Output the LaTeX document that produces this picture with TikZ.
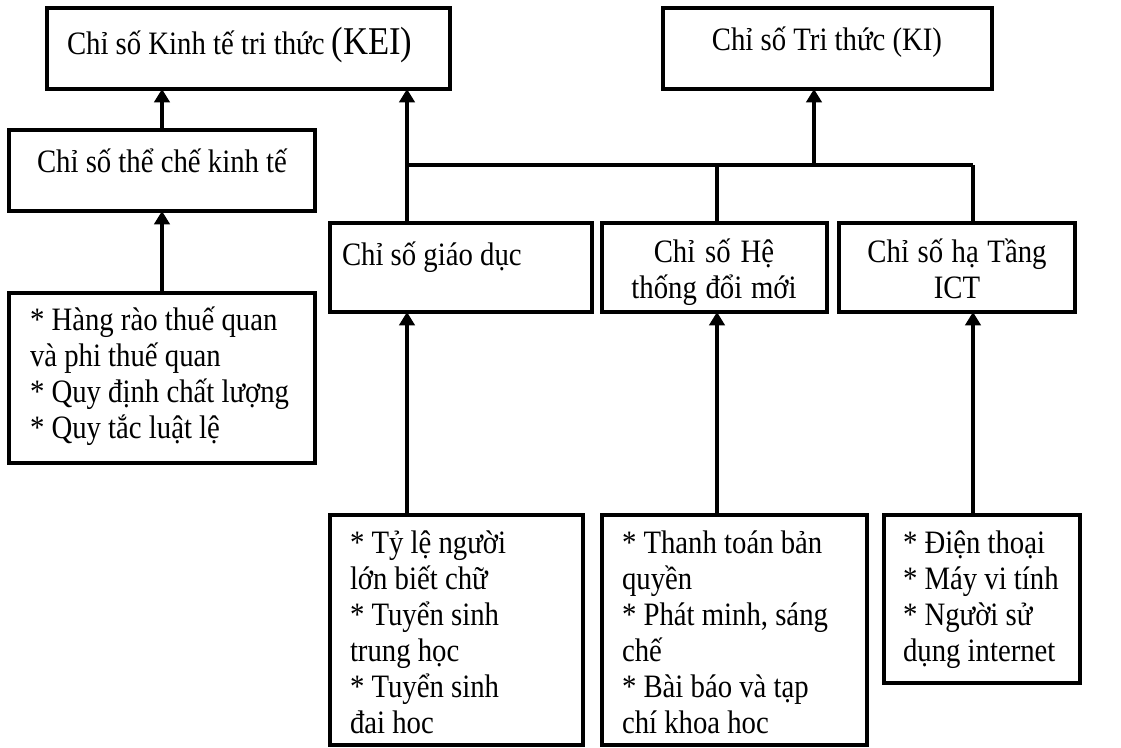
\documentclass[tikz,border=0pt]{standalone}
\usepackage{fontspec}
\setmainfont[FakeStretch=0.88]{Liberation Serif}
\usetikzlibrary{arrows.meta}
\tikzset{
  box/.style={draw, line width=2.7pt, inner sep=0pt, outer sep=0pt},
  txt/.style={inner sep=0pt, outer sep=0pt, font=\fontsize{24.5}{27}\selectfont,
    execute at begin node={\spaceskip=0pt\xspaceskip=0pt\relax}},
  ltxt/.style={txt, align=left, anchor=base west},
  ctxt/.style={txt, align=center, anchor=base},
  conn/.style={line width=2.4pt},
  arr/.style={conn, -{Triangle[length=10pt,width=11.5pt]}}
}
\begin{document}
\begin{tikzpicture}[x=0.75pt, y=-0.75pt]
\path[fill=white] (0,0) rectangle (1121,747);
\useasboundingbox (0,0) rectangle (1121,747);

% boxes
\node[box, minimum width=403*0.75pt, minimum height=81*0.75pt] (KEI) at (248.5,48.5) {};
\node[box, minimum width=329*0.75pt, minimum height=81*0.75pt] (KI) at (827.5,48.5) {};
\node[box, minimum width=306*0.75pt, minimum height=81*0.75pt] (TC) at (162,170.5) {};
\node[box, minimum width=306*0.75pt, minimum height=170*0.75pt] (TCi) at (162,378) {};
\node[box, minimum width=262*0.75pt, minimum height=89*0.75pt] (GD) at (461,267.5) {};
\node[box, minimum width=225*0.75pt, minimum height=89*0.75pt] (HT) at (714.5,267.5) {};
\node[box, minimum width=236*0.75pt, minimum height=89*0.75pt] (ICT) at (957,267.5) {};
\node[box, minimum width=253*0.75pt, minimum height=230*0.75pt] (GDi) at (456.5,630) {};
\node[box, minimum width=265*0.75pt, minimum height=230*0.75pt] (HTi) at (734.5,630) {};
\node[box, minimum width=196*0.75pt, minimum height=168*0.75pt] (ICTi) at (982,599) {};

% texts
\node[txt, anchor=base west] (tKEI) at (67,54) {Chỉ số Kinh tế tri thức {\fontsize{29.5}{27}\selectfont(KEI)}};
\node[txt, anchor=base] (tKI) at (827,50) {Chỉ số Tri thức (KI)};
\node[txt, anchor=base] (tTC) at (162,172) {Chỉ số thể chế kinh tế};
\node[ltxt, text width=285*0.75pt] (tTCi) at (30,330) {* Hàng rào thuế quan\\và phi thuế quan\\{*} Quy định chất lượng\\{*} Quy tắc luật lệ};
\node[txt, anchor=base west] (tGD) at (342,265) {Chỉ số giáo dục};
\node[ctxt, text width=220*0.75pt] (tHT) at (714,262) {Chỉ số Hệ\\thống đổi mới};
\node[ctxt, text width=230*0.75pt] (tICT) at (957,262) {Chỉ số hạ Tầng\\ICT};
\node[ltxt, text width=230*0.75pt] (tGDi) at (350,553) {* Tỷ lệ người\\lớn biết chữ\\{*} Tuyển sinh\\trung học\\{*} Tuyển sinh\\đai hoc};
\node[ltxt, text width=240*0.75pt] (tHTi) at (622,553) {* Thanh toán bản\\quyền\\{*} Phát minh, sáng\\chế\\{*} Bài báo và tạp\\chí khoa hoc};
\node[ltxt, text width=175*0.75pt] (tICTi) at (903,553) {* Điện thoại\\{*} Máy vi tính\\{*} Người sử\\dụng internet};

% bus coordinates
\coordinate (bl) at (407,165);
\coordinate (bh) at (717,165);
\coordinate (bk) at (814,165);
\coordinate (br) at (973,165);

% connectors
\draw[arr] (TCi.north) -- (TC.south);
\draw[arr] (TC.north) -- (TC.north |- KEI.south);
\draw[conn] (bl) -- (br);
\draw[conn] (GD.north -| bl) -- (bl);
\draw[arr] (bl) -- (KEI.south -| bl);
\draw[conn] (HT.north -| bh) -- (bh);
\draw[conn] (ICT.north -| br) -- (br);
\draw[arr] (bk) -- (KI.south -| bk);
\draw[arr] (GDi.north -| bl) -- (GD.south -| bl);
\draw[arr] (HTi.north -| bh) -- (HT.south -| bh);
\draw[arr] (ICTi.north -| br) -- (ICT.south -| br);
\end{tikzpicture}
\end{document}
